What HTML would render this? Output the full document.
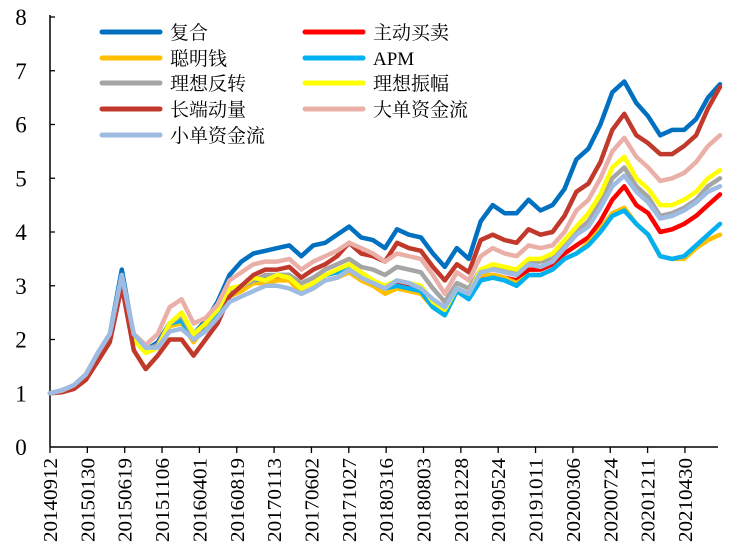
<!DOCTYPE html>
<html><head><meta charset="utf-8"><style>
html,body{margin:0;padding:0;background:#fff;}
svg{display:block;font-family:"Liberation Serif","Noto Serif CJK SC","Noto Sans CJK SC",serif;}
</style></head><body>
<svg id="chart" width="732" height="552" viewBox="0 0 732 552" xmlns="http://www.w3.org/2000/svg">
<g id="axes"></g>
<g id="series"></g>
<g id="legend"></g>
</svg>
<script>
const xLabels=["20140912","20150130","20150619","20151106","20160401","20160819","20170113","20170602","20171027","20180316","20180803","20181228","20190524","20191011","20200306","20200724","20201211","20210430"];
const yTicks=[0,1,2,3,4,5,6,7,8];
const seriesNames=["复合","主动买卖","聪明钱","APM","理想反转","理想振幅","长端动量","大单资金流","小单资金流"];
const seriesColors=["#0070c0","#ff0000","#ffc000","#00b0f0","#a5a5a5","#ffff00","#c0392b","#eab0a8","#9dbbe3"];
const fuhe=[1.0,1.05,1.15,1.35,1.75,2.1,3.3,2.05,1.8,1.95,2.3,2.3,2.1,2.35,2.7,3.2,3.45,3.6,3.65,3.7,3.75,3.55,3.75,3.8,3.95,4.1,3.9,3.85,3.7,4.05,3.95,3.9,3.6,3.35,3.7,3.5,4.2,4.5,4.35,4.35,4.6,4.4,4.5,4.8,5.35,5.55,6.0,6.6,6.8,6.4,6.15,5.8,5.9,5.9,6.1,6.5,6.75];
const zhudong=[1.0,1.04,1.12,1.3,1.7,2.05,3.15,2.05,1.8,1.9,2.3,2.35,2.0,2.3,2.5,2.85,2.95,3.1,3.1,3.15,3.15,2.95,3.05,3.2,3.25,3.35,3.2,3.1,2.95,3.05,3.0,2.95,2.7,2.5,2.95,2.8,3.15,3.2,3.15,3.1,3.3,3.3,3.4,3.6,3.75,3.9,4.2,4.6,4.85,4.5,4.35,4.0,4.05,4.15,4.3,4.5,4.7];
const congming=[1.0,1.04,1.12,1.3,1.7,2.05,3.15,2.0,1.75,1.85,2.25,2.3,1.95,2.25,2.45,2.8,2.9,3.05,3.05,3.1,3.1,2.85,2.95,3.1,3.15,3.25,3.1,3.0,2.85,2.95,2.9,2.85,2.6,2.45,2.9,2.8,3.2,3.2,3.15,3.05,3.2,3.2,3.3,3.5,3.6,3.8,4.05,4.35,4.45,4.15,3.95,3.55,3.5,3.5,3.7,3.85,3.95];
const apm=[1.0,1.04,1.12,1.3,1.7,2.05,3.2,2.05,1.8,1.9,2.3,2.35,2.0,2.3,2.5,2.9,3.0,3.1,3.15,3.2,3.2,2.95,3.05,3.2,3.25,3.35,3.2,3.05,2.95,3.0,2.95,2.9,2.6,2.45,2.9,2.75,3.1,3.15,3.1,3.0,3.2,3.2,3.3,3.5,3.6,3.75,4.0,4.3,4.4,4.15,3.95,3.55,3.5,3.55,3.75,3.95,4.15];
const fanzhuan=[1.0,1.05,1.12,1.3,1.7,2.05,3.15,2.05,1.8,1.9,2.3,2.45,2.05,2.3,2.55,2.9,3.0,3.1,3.2,3.2,3.2,3.05,3.15,3.3,3.4,3.5,3.35,3.3,3.2,3.35,3.3,3.25,2.95,2.7,3.05,2.95,3.3,3.35,3.3,3.25,3.45,3.45,3.5,3.75,4.0,4.2,4.55,5.0,5.2,4.85,4.65,4.3,4.35,4.45,4.6,4.85,5.0];
const zhenfu=[1.0,1.05,1.12,1.3,1.7,2.05,3.1,2.0,1.75,1.85,2.3,2.5,2.1,2.3,2.55,2.95,3.0,3.15,3.1,3.2,3.15,2.95,3.05,3.2,3.3,3.4,3.25,3.1,3.0,3.1,3.05,3.0,2.7,2.55,2.95,2.85,3.3,3.4,3.35,3.3,3.5,3.5,3.6,3.85,4.1,4.35,4.7,5.2,5.4,5.0,4.8,4.5,4.5,4.6,4.75,5.0,5.15];
const changduan=[1.0,1.02,1.08,1.25,1.6,1.95,3.0,1.8,1.45,1.7,2.0,2.0,1.7,2.0,2.3,2.8,3.0,3.2,3.3,3.3,3.35,3.15,3.3,3.4,3.55,3.8,3.6,3.55,3.45,3.8,3.7,3.65,3.35,3.1,3.4,3.25,3.85,3.95,3.85,3.8,4.05,3.95,4.0,4.3,4.75,4.9,5.3,5.9,6.2,5.8,5.65,5.45,5.45,5.6,5.8,6.3,6.7];
const dadan=[1.0,1.05,1.15,1.35,1.75,2.1,3.2,2.1,1.9,2.1,2.6,2.75,2.3,2.4,2.65,3.1,3.25,3.4,3.45,3.45,3.5,3.3,3.45,3.55,3.65,3.8,3.7,3.6,3.45,3.6,3.55,3.5,3.2,2.85,3.25,3.1,3.55,3.7,3.6,3.55,3.75,3.7,3.75,4.0,4.4,4.6,5.0,5.5,5.75,5.4,5.2,4.95,5.0,5.1,5.3,5.6,5.8];
const xiaodan=[1.0,1.06,1.15,1.35,1.75,2.1,3.2,2.1,1.85,1.85,2.15,2.2,2.0,2.15,2.4,2.7,2.8,2.9,3.0,3.0,2.95,2.85,2.95,3.1,3.15,3.3,3.15,3.05,2.95,3.1,3.05,2.95,2.75,2.6,2.95,2.85,3.25,3.3,3.25,3.2,3.4,3.35,3.45,3.7,3.95,4.1,4.45,4.85,5.05,4.75,4.55,4.25,4.3,4.4,4.55,4.75,4.85];
const seriesData=[fuhe,zhudong,congming,apm,fanzhuan,zhenfu,changduan,dadan,xiaodan];
const seriesKeys=["fuhe","zhudong","congming","apm","lixiang-fanzhuan","lixiang-zhenfu","changduan-dongliang","dadan-zijinliu","xiaodan-zijinliu"];

const NS="http://www.w3.org/2000/svg";
const X0=50,X1=720,Y0=447,YTOP=17,VMAX=8;
const N=fuhe.length;
function xIdx(i){return X0+(X1-X0)*i/(N-1);}
function yVal(v){return Y0-(Y0-YTOP)*v/VMAX;}
function xTick(k){return X0+37.35*k;}
function mk(tag,attrs,parent){const e=document.createElementNS(NS,tag);for(const k in attrs)e.setAttribute(k,attrs[k]);parent.appendChild(e);return e;}

const axes=document.getElementById('axes');
const yAxis=mk('line',{x1:X0,y1:YTOP-2,x2:X0,y2:Y0,stroke:'#000','stroke-width':1.5},axes);


const xAxis=mk('line',{x1:X0,y1:Y0,x2:718,y2:Y0,stroke:'#000','stroke-width':1.5},axes);


yTicks.forEach(v=>{
  const y=yVal(v);
  if(v>0){const t=mk('line',{x1:X0,y1:y,x2:X0+5,y2:y,stroke:'#000','stroke-width':1.3},axes);
  
  }
  const lb=mk('text',{x:21,y:y+8,'text-anchor':'middle','font-size':23,fill:'#000'},axes);
  lb.textContent=v;
  
  
});
xLabels.forEach((s,k)=>{
  const x=xTick(k);
  const t=mk('line',{x1:x,y1:Y0,x2:x,y2:Y0+6,stroke:'#000','stroke-width':1.3},axes);
  
  
  const lb=mk('text',{x:0,y:0,'text-anchor':'end','font-size':20,textLength:84,lengthAdjust:'spacingAndGlyphs',fill:'#000',transform:`translate(${x+7},${Y0+11}) rotate(-90)`},axes);
  lb.textContent=s;
  
  
});

const sg=document.getElementById('series');
seriesData.forEach((arr,s)=>{
  const d=arr.map((v,i)=>(i?'L':'M')+xIdx(i).toFixed(1)+','+yVal(v).toFixed(1)).join(' ');
  const p=mk('path',{d:d,fill:'none',stroke:seriesColors[s],'stroke-width':4.5,'stroke-linejoin':'round','stroke-linecap':'round'},sg);
  
  
});

const lg=document.getElementById('legend');
const rowsY=[32,58,83,109,135];
seriesNames.forEach((name,s)=>{
  const col=s%2,row=Math.floor(s/2);
  const lx=col?305:102,ty=rowsY[row];
  const g=mk('g',{},lg);
  
  
  mk('line',{x1:lx,y1:ty,x2:lx+58,y2:ty,stroke:seriesColors[s],'stroke-width':5,'stroke-linecap':'round'},g);
  const t=mk('text',{x:lx+68,y:ty+7,'font-size':19,fill:'#000'},g);
  t.textContent=name;
});
</script>
</body></html>
